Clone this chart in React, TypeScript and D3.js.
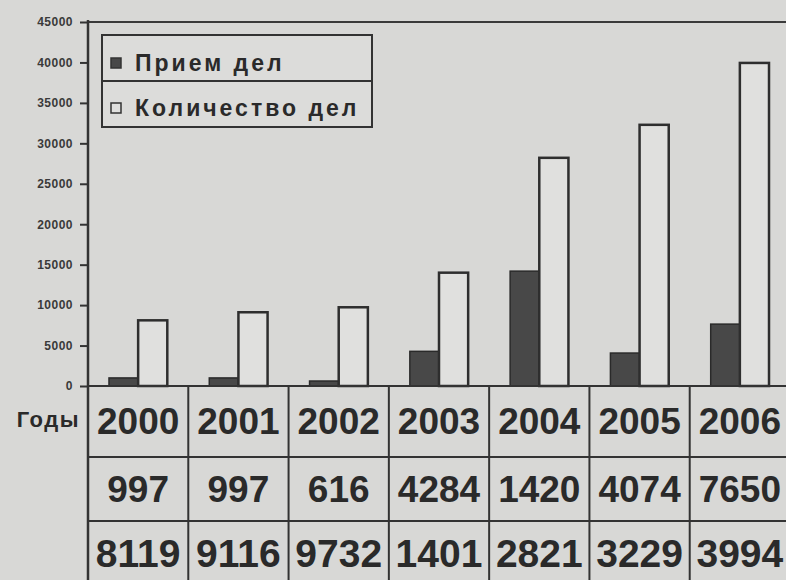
import React, { useEffect, useRef } from 'react';
import * as d3 from 'd3';

const years = ['2000', '2001', '2002', '2003', '2004', '2005', '2006'];
// values
const priem = [997, 997, 616, 4284, 14200, 4074, 7650];
const kolichestvo = [8119, 9116, 9732, 14010, 28210, 32290, 39940];
// labels as printed in the table under the chart
const priemLabels = ['997', '997', '616', '4284', '1420', '4074', '7650'];
const kolichestvoLabels = ['8119', '9116', '9732', '1401', '2821', '3229', '3994'];
const seriesNames = ['Прием дел', 'Количество дел'];
const yTicks = [0, 5000, 10000, 15000, 20000, 25000, 30000, 35000, 40000, 45000];

const W = 786;
const H = 580;
const FONT = '"Liberation Sans", Arial, sans-serif';

const App = () => {
  const ref = useRef<SVGSVGElement>(null);

  useEffect(() => {
    const svg = d3.select(ref.current);
    svg.selectAll('*').remove();

    const left = 88;
    const right = 790;
    const top = 22;
    const base = 386;
    const rowLines = [base, 457, 521, 585];

    const x0 = d3.scaleBand<string>().domain(years).range([left, right]).padding(0);
    const x1 = d3
      .scaleBand<string>()
      .domain(seriesNames)
      .range([0, x0.bandwidth()])
      .paddingInner(0)
      .paddingOuter(0.72);
    const y = d3.scaleLinear().domain([0, 45000]).range([base, top]);

    svg.append('rect').attr('width', W).attr('height', H).attr('fill', '#d8d8d6');

    // plot frame top line
    svg
      .append('line')
      .attr('x1', left)
      .attr('x2', right)
      .attr('y1', top)
      .attr('y2', top)
      .attr('stroke', '#3a3a3a')
      .attr('stroke-width', 2);

    // bars
    const data = years.map((yr, i) => ({ yr, p: priem[i], k: kolichestvo[i] }));
    const g = svg.append('g');
    g.selectAll('.bar-p')
      .data(data)
      .enter()
      .append('rect')
      .attr('x', d => x0(d.yr)! + x1(seriesNames[0])!)
      .attr('y', d => y(d.p))
      .attr('width', x1.bandwidth())
      .attr('height', d => base - y(d.p))
      .attr('fill', '#484848')
      .attr('stroke', '#2a2a2a')
      .attr('stroke-width', 1.5);
    g.selectAll('.bar-k')
      .data(data)
      .enter()
      .append('rect')
      .attr('x', d => x0(d.yr)! + x1(seriesNames[1])!)
      .attr('y', d => y(d.k))
      .attr('width', x1.bandwidth())
      .attr('height', d => base - y(d.k))
      .attr('fill', '#e0e0de')
      .attr('stroke', '#2e2e2e')
      .attr('stroke-width', 2.5);

    // y axis
    const axis = svg
      .append('g')
      .attr('transform', `translate(${left},0)`)
      .call(
        d3
          .axisLeft(y)
          .tickValues(yTicks)
          .tickSize(8)
          .tickPadding(7)
          .tickFormat(d => String(d))
      );
    axis.select('.domain').remove();
    axis.selectAll('line').attr('stroke', '#333').attr('stroke-width', 2);
    axis
      .selectAll('text')
      .attr('fill', '#3a3a3a')
      .attr('font-family', FONT)
      .attr('font-weight', 'bold')
      .attr('font-size', 12)
      .attr('letter-spacing', 0.5);

    // left border of plot and table
    svg
      .append('line')
      .attr('x1', left)
      .attr('x2', left)
      .attr('y1', top - 2)
      .attr('y2', rowLines[3])
      .attr('stroke', '#333')
      .attr('stroke-width', 2.5);

    // data table
    rowLines.forEach(ly => {
      svg
        .append('line')
        .attr('x1', left)
        .attr('x2', right)
        .attr('y1', ly)
        .attr('y2', ly)
        .attr('stroke', '#333')
        .attr('stroke-width', 2);
    });
    years.forEach(yr => {
      svg
        .append('line')
        .attr('x1', x0(yr)! + x0.bandwidth())
        .attr('x2', x0(yr)! + x0.bandwidth())
        .attr('y1', base)
        .attr('y2', rowLines[3])
        .attr('stroke', '#333')
        .attr('stroke-width', 2);
    });

    const rows = [years, priemLabels, kolichestvoLabels];
    rows.forEach((labels, r) => {
      const cy = (rowLines[r] + rowLines[r + 1]) / 2;
      svg
        .selectAll(`.row${r}`)
        .data(labels)
        .enter()
        .append('text')
        .attr('x', (d, i) => x0(years[i])! + x0.bandwidth() / 2)
        .attr('y', cy)
        .attr('text-anchor', 'middle')
        .attr('dominant-baseline', 'central')
        .attr('font-family', FONT)
        .attr('font-weight', 'bold')
        .attr('font-size', r === 2 ? 39 : 37)
        .attr('fill', '#2a2a2a')
        .text(d => d);
    });

    svg
      .append('text')
      .attr('x', 80)
      .attr('y', (rowLines[0] + rowLines[1]) / 2 - 2)
      .attr('text-anchor', 'end')
      .attr('dominant-baseline', 'central')
      .attr('font-family', FONT)
      .attr('font-weight', 'bold')
      .attr('font-size', 22)
      .attr('letter-spacing', 1.5)
      .attr('fill', '#2a2a2a')
      .text('Годы');

    // legend
    const lg = svg.append('g').attr('transform', 'translate(102,35)');
    lg.append('rect')
      .attr('width', 270)
      .attr('height', 92)
      .attr('fill', '#dcdcda')
      .attr('stroke', '#333')
      .attr('stroke-width', 2);
    lg.append('line')
      .attr('x1', 0)
      .attr('x2', 270)
      .attr('y1', 46)
      .attr('y2', 46)
      .attr('stroke', '#333')
      .attr('stroke-width', 2);
    seriesNames.forEach((name, i) => {
      const cy = 28 + i * 45;
      lg.append('rect')
        .attr('x', 9)
        .attr('y', cy - 5)
        .attr('width', 10)
        .attr('height', 10)
        .attr('fill', i === 0 ? '#484848' : '#e0e0de')
        .attr('stroke', '#333')
        .attr('stroke-width', 1.5);
      lg.append('text')
        .attr('x', 33)
        .attr('y', cy)
        .attr('dominant-baseline', 'central')
        .attr('font-family', FONT)
        .attr('font-weight', 'bold')
        .attr('font-size', 23)
        .attr('letter-spacing', 3)
        .attr('fill', '#2a2a2a')
        .text(name);
    });
  }, []);

  return (
    <div style={{ position: 'fixed', left: 0, top: 0 }}>
      <svg ref={ref} width={W} height={H} style={{ display: 'block' }} />
    </div>
  );
};

export default App;
